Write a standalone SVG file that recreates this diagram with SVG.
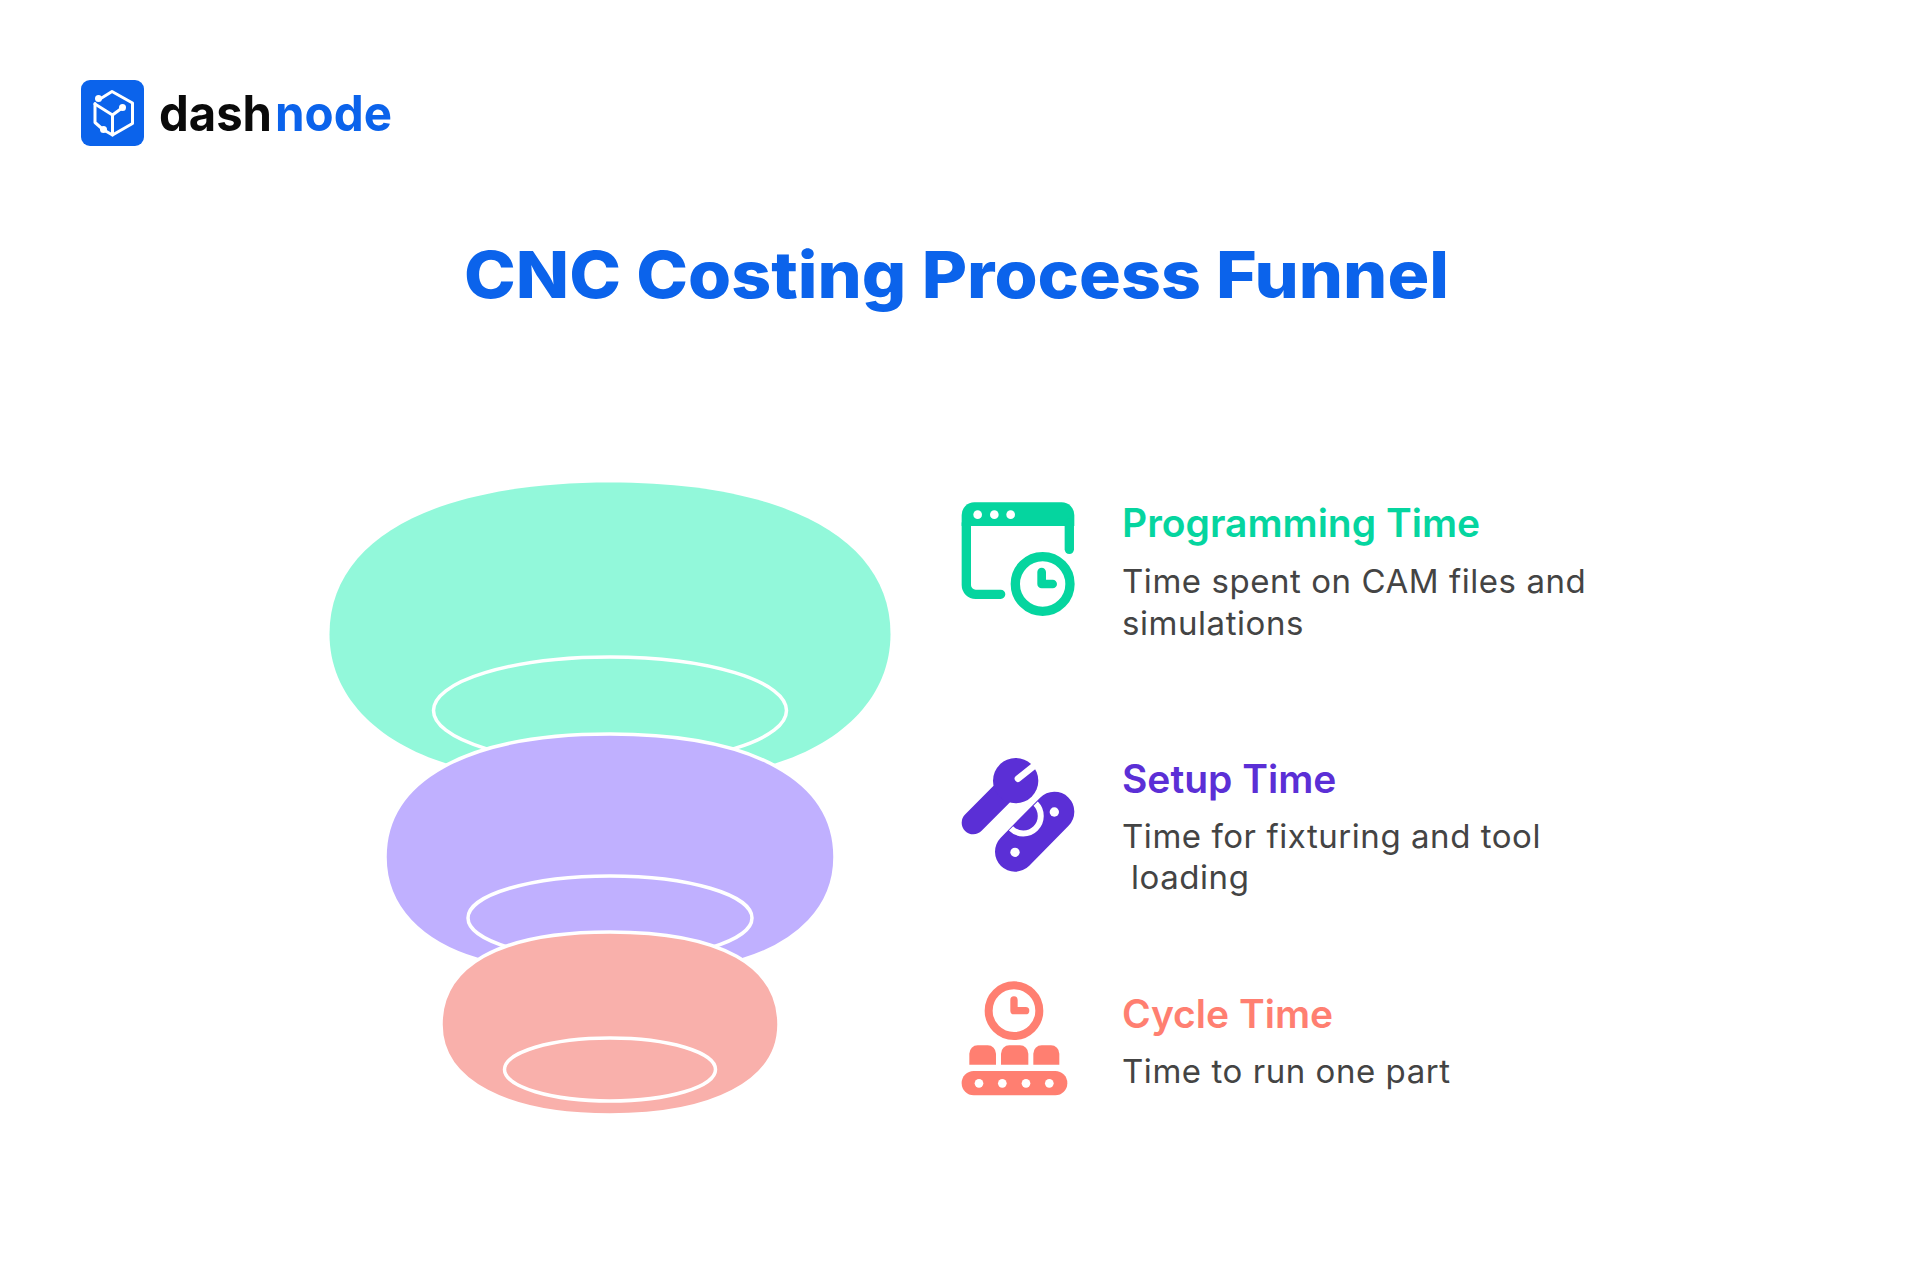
<svg xmlns="http://www.w3.org/2000/svg" width="1920" height="1280" viewBox="0 0 1920 1280">
<style>
text{font-family:Inter,"Liberation Sans",sans-serif}
.title{font-size:65px;font-weight:800;fill:#0b63eb}
.logo{font-size:50px;font-weight:700}
.h{font-size:39px;font-weight:600}
.b{font-size:33px;font-weight:400;fill:#444444;letter-spacing:.55px}
.ring{fill:none;stroke:#fff;stroke-width:3.5}
.w{fill:#fff}
.g{fill:#05d59f}.p{fill:#5b2fd6}.c{fill:#ff7f71}
</style>
<rect width="1920" height="1280" fill="#fff"/>
<g id="logo">
<rect x="81" y="80" width="63" height="66" rx="9" fill="#0b63eb"/>
<g fill="none" stroke="#fff" stroke-width="3" stroke-linecap="round" stroke-linejoin="round">
<path d="M100 99L112 91.500L132.500 103V123.500L112.500 135"/>
<path d="M95 103.500V122.500L103 129.500L112.500 135V115"/>
<path d="M95 104L112.500 115L122 108"/>
</g>
<g fill="#fff"><circle cx="98.500" cy="98.500" r="3.500"/><circle cx="122.500" cy="107.500" r="3.500"/><circle cx="103.500" cy="129.500" r="3.500"/></g>
<text class="logo" x="159" y="131" fill="#0a0a0a" textLength="113" lengthAdjust="spacingAndGlyphs">dash</text>
<text class="logo" x="275" y="131" fill="#0b63eb" textLength="117" lengthAdjust="spacingAndGlyphs">node</text>
</g>
<text class="title" x="464" y="298" textLength="985" lengthAdjust="spacingAndGlyphs">CNC Costing Process Funnel</text>
<g id="funnel">
<g id="stage-programming">
<path fill="#92f8da" d="M329.500 634C329.500 538 436 482.500 610 482.500C784 482.500 890.500 538 890.500 634C890.500 695 845 742 773.500 764L610 790L448 764C376 742 329.500 695 329.500 634Z"/>
<ellipse class="ring" cx="610" cy="710.500" rx="176.500" ry="53.500"/>
</g>
<g id="stage-setup">
<path fill="#c0b0ff" stroke="#fff" stroke-width="3.500" d="M385 857C385 780 466 734 610 734C754 734 835 780 835 857C835 908 797 943 743.500 959.500L610 985L477.500 959.500C422 943 385 908 385 857Z"/>
<ellipse class="ring" cx="610" cy="918" rx="142" ry="42"/>
</g>
<g id="stage-cycle">
<path fill="#f9b0ab" stroke="#fff" stroke-width="3.500" d="M441 1024.500C441 966 498 932 610 932C722 932 779 966 779 1024.500C779 1082 712 1115 610 1115C508 1115 441 1082 441 1024.500Z"/>
<ellipse class="ring" cx="610" cy="1069.500" rx="105.500" ry="31.500"/>
</g>
</g>
<g id="item-programming">
<g transform="translate(940 480) scale(.3333)">
<path class="g" d="M65 138V105A38 38 0 0 1 103 67H365A38 38 0 0 1 403 105V138Z"/>
<g fill="none" stroke="#05d59f" stroke-linecap="round" stroke-linejoin="round">
<path stroke-width="28" d="M79 130V315A28 28 0 0 0 107 343H182"/>
<path stroke-width="28" d="M388 130V208"/>
<circle cx="308" cy="312" r="82" stroke-width="28"/>
<path stroke-width="26" d="M305 276V312H338"/>
</g>
<g class="w"><circle cx="113" cy="104" r="13"/><circle cx="163" cy="104" r="13"/><circle cx="212" cy="104" r="13"/></g>
</g>
<text class="h g" x="1122" y="537">Programming Time</text>
<text class="b" x="1122" y="592.500">Time spent on CAM files and</text>
<text class="b" x="1122" y="634.500">simulations</text>
</g>
<g id="item-setup">
<g transform="translate(940 740) scale(.3333)">
<path d="M100 248L225 122" stroke="#5b2fd6" stroke-width="70" stroke-linecap="round" fill="none"/>
<circle class="p" cx="227" cy="122" r="68"/>
<path d="M234 116L284 76" stroke="#fff" stroke-width="20" stroke-linecap="round" fill="none"/>
<path d="M225 335L343 215" stroke="#5b2fd6" stroke-width="120" stroke-linecap="round" fill="none"/>
<path d="M287 191A52 52 0 0 1 213 265" stroke="#fff" stroke-width="18" fill="none"/>
<g class="w"><circle cx="225" cy="337" r="14"/><circle cx="343" cy="216" r="14"/></g>
</g>
<text class="h p" x="1122" y="793">Setup Time</text>
<text class="b" x="1122" y="847.500">Time for fixturing and tool</text>
<text class="b" x="1131" y="888.500">loading</text>
</g>
<g id="item-cycle">
<g transform="translate(940 970) scale(.3333)">
<circle cx="222" cy="122" r="76" fill="none" stroke="#ff7f71" stroke-width="24"/>
<path d="M222 90V122H257" fill="none" stroke="#ff7f71" stroke-width="22" stroke-linecap="round" stroke-linejoin="round"/>
<g class="c">
<path d="M88 284V251A25 25 0 0 1 113 226H143A25 25 0 0 1 168 251V284Z"/>
<path d="M183 284V251A25 25 0 0 1 208 226H240A25 25 0 0 1 265 251V284Z"/>
<path d="M280 284V251A25 25 0 0 1 305 226H333A25 25 0 0 1 358 251V284Z"/>
<rect x="65" y="303" width="317" height="73" rx="36"/>
</g>
<g class="w"><circle cx="117" cy="340" r="13"/><circle cx="187" cy="340" r="13"/><circle cx="258" cy="340" r="13"/><circle cx="328" cy="340" r="13"/></g>
</g>
<text class="h c" x="1122" y="1028">Cycle Time</text>
<text class="b" x="1122" y="1082.500">Time to run one part</text>
</g>
</svg>
